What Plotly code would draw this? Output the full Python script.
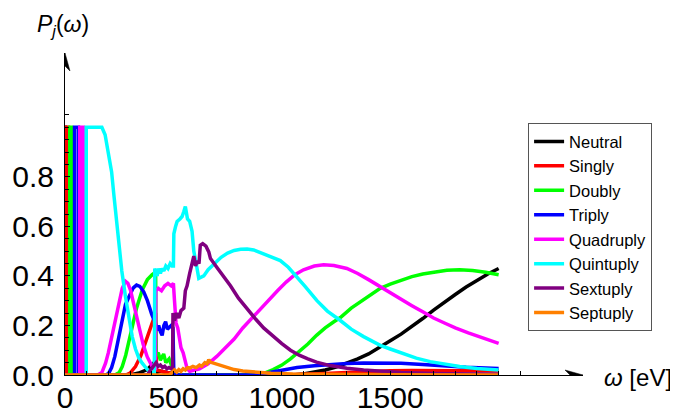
import plotly.graph_objects as go

# ---------------- data ----------------
series_names = ["Neutral", "Singly", "Doubly", "Triply", "Quadruply", "Quintuply", "Sextuply", "Septuply"]
series_colors = ["#000000", "#ff0000", "#00ff00", "#0000ff", "#ff00ff", "#00ffff", "#800080", "#ff8000"]

neutral_w = [0, 3, 3, 300, 340, 380, 410, 420, 440, 480, 500, 520,
             1050, 1100, 1150, 1200, 1250, 1300, 1350, 1400, 1454, 1500, 1550, 1600, 1650, 1700, 1750, 1800, 1850, 1900, 1950, 2000]
neutral_p = [1, 1, 0, 0, 0.008, 0.022, 0.05, 0.01, 0.015, 0.01, 0.005, 0,
             0, 0.004, 0.011, 0.02, 0.032, 0.047, 0.065, 0.085, 0.112, 0.138, 0.165, 0.195, 0.228, 0.262, 0.295, 0.325, 0.355, 0.383, 0.408, 0.43]

singly_w = [0, 4, 4, 16, 16, 280, 300, 325, 350, 371, 390, 405, 418, 422, 450, 480, 500, 520,
            1000, 1100, 1200, 1300, 1400, 1500, 1600, 1700, 1800, 1900, 2000]
singly_p = [0, 0, 1, 1, 0, 0, 0.008, 0.034, 0.078, 0.13, 0.175, 0.215, 0.25, 0.02, 0.015, 0.01, 0.005, 0,
            0, 0.002, 0.006, 0.01, 0.014, 0.017, 0.018, 0.018, 0.018, 0.017, 0.016]

doubly_w = [0, 22, 22, 30, 30, 230, 250, 264, 280, 295, 310, 330, 356, 380, 402, 418,
            420, 430, 440, 455, 465, 480, 495, 505,
            880, 920, 960, 1000, 1040, 1080, 1120, 1160, 1200, 1240, 1270, 1320, 1377, 1420, 1454, 1500, 1550, 1600,
            1650, 1700, 1761, 1820, 1880, 1940, 2000]
doubly_p = [0, 0, 1, 1, 0, 0, 0.01, 0.034, 0.08, 0.14, 0.195, 0.27, 0.343, 0.385, 0.405, 0.415,
            0.08, 0.09, 0.06, 0.085, 0.05, 0.065, 0.03, 0.0,
            0.0, 0.008, 0.022, 0.04, 0.065, 0.095, 0.125, 0.16, 0.19, 0.215, 0.232, 0.27, 0.305, 0.33, 0.35, 0.367, 0.383, 0.397,
            0.408, 0.416, 0.423, 0.425, 0.422, 0.415, 0.405]

triply_w = [0, 44, 44, 62, 62, 190, 202, 215, 230, 245, 260, 279, 300, 315, 330, 345, 363, 380, 400, 417,
            425, 432, 440, 448, 456, 464, 472, 480, 490, 498, 502,
            880, 950, 1000, 1070, 1150, 1223, 1300, 1377, 1454, 1550, 1650, 1750, 1850, 2000]
triply_p = [0, 0, 1, 1, 0, 0, 0.008, 0.03, 0.075, 0.14, 0.205, 0.285, 0.325, 0.352, 0.363, 0.358, 0.336, 0.3, 0.245, 0.21,
            0.18, 0.2, 0.175, 0.16, 0.2, 0.215, 0.185, 0.19, 0.2, 0.19, 0.0,
            0.0, 0.012, 0.02, 0.03, 0.037, 0.042, 0.046, 0.048, 0.049, 0.047, 0.042, 0.036, 0.031, 0.026]

quadruply_w = [0, 68, 68, 84, 84, 150, 170, 187, 200, 215, 233, 250, 264, 279, 290, 302, 320, 340, 360, 379, 400, 417,
               419, 430, 445, 460, 475, 490, 500, 505, 512, 520, 528, 535, 545, 555, 563, 575,
               620, 660, 700, 740, 780, 820, 860, 900, 940, 980, 1020, 1060, 1100, 1150, 1193, 1240, 1300, 1350, 1400,
               1454, 1500, 1550, 1600, 1650, 1700, 1750, 1800, 1860, 1914, 1960, 2000]
quadruply_p = [0, 0, 1, 1, 0, 0, 0.01, 0.048, 0.09, 0.15, 0.23, 0.3, 0.35, 0.378, 0.37, 0.343, 0.275, 0.195, 0.125, 0.074, 0.037, 0.02,
               0.34, 0.35, 0.34, 0.36, 0.37, 0.36, 0.37, 0.3, 0.21, 0.19, 0.15, 0.11, 0.09, 0.06, 0.027, 0.015,
               0.025, 0.045, 0.075, 0.11, 0.145, 0.19, 0.228, 0.265, 0.305, 0.34, 0.375, 0.405, 0.425, 0.44, 0.445, 0.442, 0.43, 0.41, 0.385,
               0.356, 0.33, 0.305, 0.28, 0.255, 0.23, 0.21, 0.19, 0.17, 0.155, 0.14, 0.128]

quintuply_w = [0, 98, 98, 170, 185, 202, 215, 225, 237, 248, 262, 279, 295, 310, 325, 340, 356, 380, 402, 412,
               414, 425, 432, 440, 448, 456, 465, 475, 485, 494, 500,
               502, 510, 517, 530, 540, 548, 555, 565, 575, 586, 594, 605, 617,
               640, 660, 690, 720, 750, 780, 810, 840, 870, 900, 950, 993, 1030, 1070, 1110, 1162, 1210, 1270, 1320,
               1377, 1420, 1454, 1500, 1550, 1620, 1684, 1750, 1820, 1900, 2000]
quintuply_p = [0, 0, 1, 1, 0.97, 0.895, 0.82, 0.73, 0.63, 0.53, 0.42, 0.316, 0.23, 0.155, 0.105, 0.07, 0.048, 0.022, 0.008, 0.005,
               0.43, 0.40, 0.43, 0.41, 0.43, 0.42, 0.44, 0.43, 0.45, 0.44, 0.44,
               0.57, 0.6, 0.62, 0.63, 0.64, 0.66, 0.68, 0.63, 0.62, 0.58, 0.50, 0.45, 0.39,
               0.40, 0.425, 0.45, 0.475, 0.492, 0.503, 0.508, 0.509, 0.505, 0.495, 0.48, 0.462, 0.435, 0.396, 0.355, 0.30, 0.258, 0.22, 0.185,
               0.155, 0.135, 0.12, 0.105, 0.088, 0.068, 0.054, 0.043, 0.034, 0.026, 0.02]

sextuply_w = [0, 380, 395, 410, 420, 430, 440, 450, 460, 470, 480, 490, 496,
              498, 505, 515, 525, 535, 548, 555, 563, 575, 585, 594, 602, 610, 618, 624, 635, 650, 663, 671,
              700, 730, 763, 800, 840, 880, 916, 960, 1000, 1040, 1080, 1120, 1160, 1223, 1300, 1377, 1454, 1550, 1700, 2000]
sextuply_p = [0, 0, 0.02, 0.04, 0.05, 0.035, 0.04, 0.03, 0.035, 0.025, 0.03, 0.025, 0.03,
              0.25, 0.22, 0.25, 0.23, 0.26, 0.27, 0.34, 0.36, 0.41, 0.45, 0.48, 0.44, 0.46, 0.45, 0.524, 0.53, 0.52, 0.497, 0.47,
              0.435, 0.4, 0.36, 0.31, 0.265, 0.225, 0.19, 0.155, 0.127, 0.1, 0.08, 0.065, 0.052, 0.038, 0.027, 0.02, 0.014, 0.01, 0.006, 0.003]

septuply_w = [0, 480, 494, 505, 515, 525, 535, 545, 555, 565, 575, 590, 605, 620, 630, 645, 655, 663,
              670, 690, 720, 747, 780, 820, 870, 950, 1050, 1200, 1500, 2000]
septuply_p = [0, 0, 0.01, 0.02, 0.012, 0.022, 0.015, 0.025, 0.02, 0.03, 0.028, 0.035, 0.03, 0.04, 0.035, 0.05, 0.045, 0.062,
              0.052, 0.046, 0.037, 0.029, 0.022, 0.016, 0.012, 0.007, 0.004, 0.002, 0.001, 0.0]

series_w = [neutral_w, singly_w, doubly_w, triply_w, quadruply_w, quintuply_w, sextuply_w, septuply_w]
series_p = [neutral_p, singly_p, doubly_p, triply_p, quadruply_p, quintuply_p, sextuply_p, septuply_p]

x_tick_vals = [0, 500, 1000, 1500]
x_tick_text = ["0", "500", "1000", "1500"]
x_minor_vals = [100 * k for k in range(0, 22)]
y_tick_vals = [0.0, 0.2, 0.4, 0.6, 0.8]
y_tick_text = ["0.0", "0.2", "0.4", "0.6", "0.8"]
y_minor_vals = [0.05 * k for k in range(0, 22)]

X_MAX = 2389
Y_MAX = 1.30

# ---------------- figure ----------------
fig = go.Figure()
for name, color, w, p in zip(series_names, series_colors, series_w, series_p):
    fig.add_trace(go.Scatter(x=w, y=p, mode="lines", name=name,
                             line=dict(color=color, width=3.5)))

# the page body adds an 8px margin, so the figure is 8px smaller than the window
W, H = 670, 405
L, R, T, B = 56.5, 95, 44.6, 38

tickfont = dict(family="Liberation Sans, Arial, sans-serif", size=30, color="black")

fig.update_layout(
    width=W, height=H,
    margin=dict(l=L, r=R, t=T, b=B, pad=0, autoexpand=False),
    paper_bgcolor="white", plot_bgcolor="white",
    showlegend=True,
    legend=dict(x=0.894, y=0.782, xanchor="left", yanchor="top",
                bgcolor="white", bordercolor="#555555", borderwidth=1,
                font=dict(family="Liberation Sans, Arial, sans-serif", size=16.5, color="black"),
                itemwidth=30, tracegroupgap=0),
    xaxis=dict(range=[0, X_MAX], showgrid=False, zeroline=False, automargin=False,
               showline=True, linecolor="black", linewidth=1,
               tickmode="array", tickvals=x_tick_vals, ticktext=x_tick_text,
               ticks="inside", ticklen=4, tickcolor="black", tickwidth=1,
               tickfont=tickfont, ticklabelstandoff=-4,
               minor=dict(tickmode="array", tickvals=x_minor_vals, ticks="inside",
                          ticklen=4, tickcolor="black", tickwidth=1)),
    yaxis=dict(range=[0, Y_MAX], showgrid=False, zeroline=False, automargin=False,
               showline=True, linecolor="black", linewidth=1,
               tickmode="array", tickvals=y_tick_vals, ticktext=y_tick_text,
               ticks="inside", ticklen=5, tickcolor="black", tickwidth=1,
               tickfont=tickfont, ticklabelstandoff=4,
               minor=dict(tickmode="array", tickvals=y_minor_vals, ticks="inside",
                          ticklen=3.5, tickcolor="black", tickwidth=1)),
)

# axis arrowheads (pixel-sized paths anchored at the axis ends)
fig.add_shape(type="path", xref="x", yref="y", xsizemode="pixel", ysizemode="pixel",
              xanchor=X_MAX, yanchor=0,
              path="M 0 0 L -18 5 L -13 0 L -18 -5 Z",
              fillcolor="black", line=dict(color="black", width=0.5), layer="above")
fig.add_shape(type="path", xref="x", yref="y", xsizemode="pixel", ysizemode="pixel",
              xanchor=0, yanchor=Y_MAX,
              path="M 0 0 L 5 -18 L 0 -13 L -5 -18 Z",
              fillcolor="black", line=dict(color="black", width=0.5), layer="above")

# axis labels
fig.add_annotation(xref="paper", yref="paper", x=-0.003, y=1.085,
                   xanchor="center", yanchor="middle", showarrow=False,
                   text="<i>P</i><sub><i>j</i></sub>(<i>ω</i>)",
                   font=dict(family="Liberation Sans, Arial, sans-serif", size=23, color="black"))
fig.add_annotation(xref="paper", yref="paper", x=1.0366, y=-0.009,
                   xanchor="left", yanchor="middle", showarrow=False,
                   text="<i>ω</i> [eV]",
                   font=dict(family="Liberation Sans, Arial, sans-serif", size=24, color="black"))

fig.write_html("out.html")
